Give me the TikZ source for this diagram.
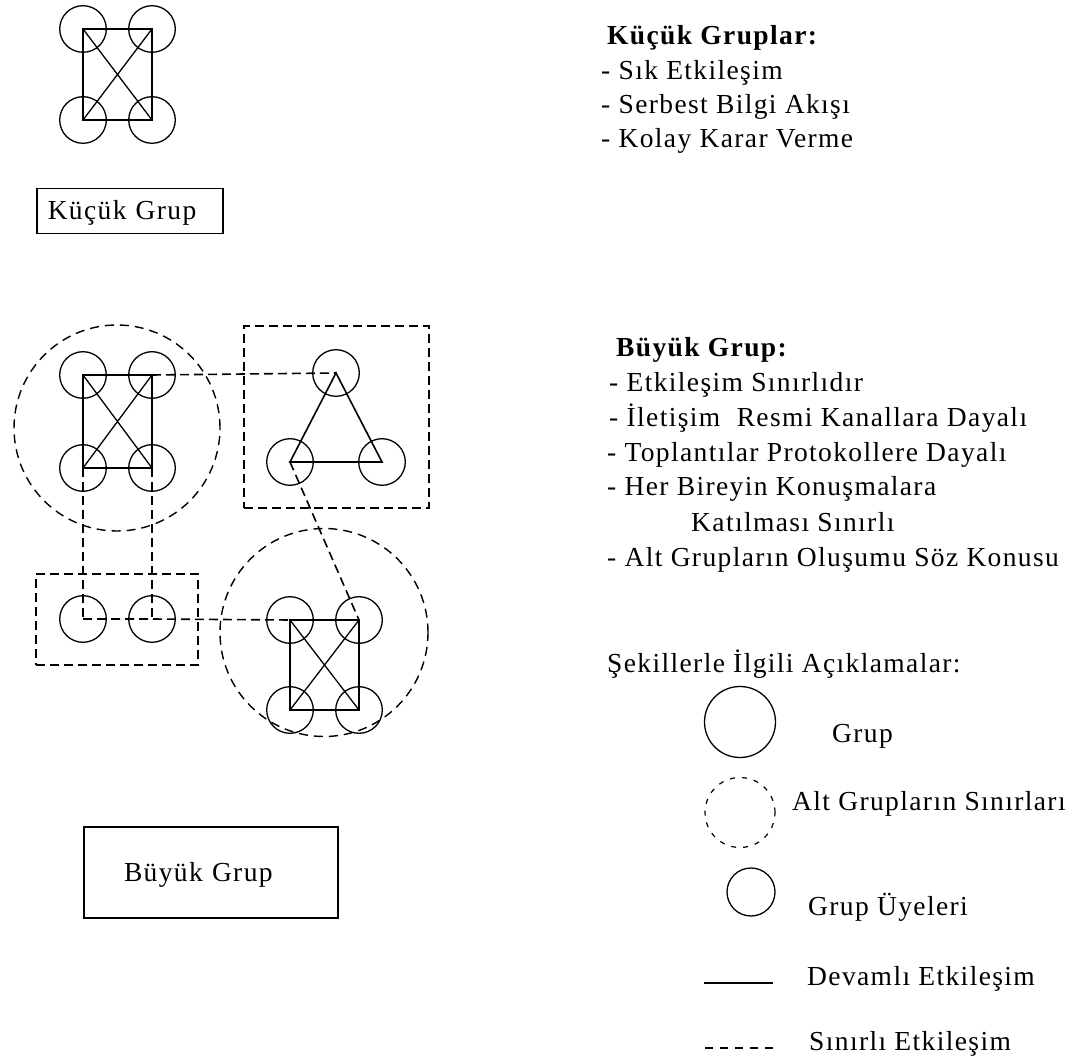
\documentclass[tikz,border=0pt]{standalone}
\usepackage{fontspec}
\setmainfont{Liberation Serif}[LetterSpace=5]
\begin{document}
\begin{tikzpicture}[x=1pt,y=-1pt,
  mem/.style={circle, draw, line width=1.3pt, minimum size=46.6pt, inner sep=0pt},
  subc/.style={circle, draw, line width=1.4pt, dash pattern=on 9pt off 6pt, inner sep=0pt},
  dbox/.style={draw, line width=1.6pt, dash pattern=on 9pt off 5pt, inner sep=0pt},
  solidl/.style={line width=2pt},
  diagl/.style={line width=1.3pt},
  triangl/.style={line width=1.6pt},
  dashl/.style={line width=1.6pt, dash pattern=on 9pt off 5pt},
  txt/.style={anchor=base west, inner sep=0pt, font=\fontsize{27.5}{33}\selectfont},
  htxt/.style={txt, font=\fontsize{27.5}{33}\selectfont\bfseries}
]
\useasboundingbox[fill=white] (0,0) rectangle (1080,1059);

% ---------- small group ----------
\node[mem] (s1) at (83,29) {};
\node[mem] (s2) at (152,29) {};
\node[mem] (s3) at (83,120) {};
\node[mem] (s4) at (152,120) {};
\draw[solidl] (s1.center) -- (s2.center) -- (s4.center) -- (s3.center) -- cycle;
\draw[diagl] (s1.center) -- (s4.center) (s2.center) -- (s3.center);

\node[draw, line width=1.5pt, anchor=north west, text width=164pt, align=left,
      inner xsep=11pt, inner ysep=0pt, text height=31pt, text depth=14pt,
      font=\fontsize{27.5}{33}\selectfont] (kbox) at (36,188) {Küçük Grup};

% ---------- large group ----------
% top-left subgroup
\node[mem] (a1) at (83,375) {};
\node[mem] (a2) at (152,375) {};
\node[mem] (a3) at (83,468) {};
\node[mem] (a4) at (152,468) {};
\draw[solidl] (a1.center) -- (a2.center) -- (a4.center) -- (a3.center) -- cycle;
\draw[diagl] (a1.center) -- (a4.center) (a2.center) -- (a3.center);
\node[subc, minimum size=206pt] (ac) at (117,428) {};

% triangle subgroup
\node[mem] (b1) at (336,373) {};
\node[mem] (b2) at (290,462) {};
\node[mem] (b3) at (382,462) {};
\draw[triangl] (b1.center) -- (b2.center) -- (b3.center) -- cycle;
\node[dbox, minimum width=185pt, minimum height=182pt] (bbox) at (336.5,417) {};

% two-member subgroup
\node[mem] (c1) at (83,619) {};
\node[mem] (c2) at (152,619) {};
\node[dbox, minimum width=162pt, minimum height=91pt] (cbox) at (117,619.5) {};

% bottom-right subgroup
\node[mem] (d1) at (290,620) {};
\node[mem] (d2) at (359,620) {};
\node[mem] (d3) at (290,710) {};
\node[mem] (d4) at (359,710) {};
\draw[solidl] (d1.center) -- (d2.center) -- (d4.center) -- (d3.center) -- cycle;
\draw[diagl] (d1.center) -- (d4.center) (d2.center) -- (d3.center);
\node[subc, minimum size=208pt] (dc) at (324,632.5) {};

% limited interactions
\draw[dashl] (a2.center) -- (b1.center);
\draw[dashl] (a3.center) -- (c1.center);
\draw[dashl] (a4.center) -- (c2.center);
\draw[dashl] (c1.center) -- (c2.center) -- (d1.center);
\draw[dashl] (b2.center) -- (d2.center);

\node[draw, line width=2pt, anchor=north west, text width=174pt, align=left,
      inner xsep=40pt, inner ysep=0pt, text height=54pt, text depth=37pt,
      font=\fontsize{27.5}{33}\selectfont] (bgbox) at (83,826) {Büyük Grup};

% ---------- right texts ----------
\node[htxt] (k0) at (607,45) {Küçük Gruplar:};
\node[txt] (k1) at (601,80) {- Sık Etkileşim};
\node[txt] (k2) at (601,114) {- Serbest Bilgi Akışı};
\node[txt] (k3) at (601,148) {- Kolay Karar Verme};

\node[htxt] (g0) at (616,357) {Büyük Grup:};
\node[txt] (g1) at (609,392) {- Etkileşim Sınırlıdır};
\node[txt] (g2) at (609,427) {- İletişim \ Resmi Kanallara Dayalı};
\node[txt] (g3) at (607,462) {- Toplantılar Protokollere Dayalı};
\node[txt] (g4) at (607,496) {- Her Bireyin Konuşmalara};
\node[txt] (g5) at (691,531) {Katılması Sınırlı};
\node[txt] (g6) at (607,566) {- Alt Grupların Oluşumu Söz Konusu};

% ---------- legend ----------
\node[txt] (l0) at (607,672) {Şekillerle İlgili Açıklamalar:};
\node[circle, draw, line width=1.3pt, minimum size=71pt, inner sep=0pt] (lg1) at (740,722) {};
\node[txt] (l1) at (832,742) {Grup};
\node[circle, draw, line width=1.2pt, dash pattern=on 5pt off 7pt, minimum size=70pt, inner sep=0pt] (lg2) at (740,812.5) {};
\node[txt] (l2) at (792,810) {Alt Grupların Sınırları};
\node[circle, draw, line width=1.3pt, minimum size=48pt, inner sep=0pt] (lg3) at (751,892) {};
\node[txt] (l3) at (808,915) {Grup Üyeleri};
\coordinate (ls1) at (704,983);
\coordinate (ls2) at (773,983);
\draw[line width=1.6pt] (ls1) -- (ls2);
\node[txt] (l4) at (807,985) {Devamlı Etkileşim};
\coordinate (ld1) at (705,1048);
\coordinate (ld2) at (773,1048);
\draw[line width=1.6pt, dash pattern=on 8pt off 7pt] (ld1) -- (ld2);
\node[txt] (l5) at (809,1050) {Sınırlı Etkileşim};
\end{tikzpicture}
\end{document}
